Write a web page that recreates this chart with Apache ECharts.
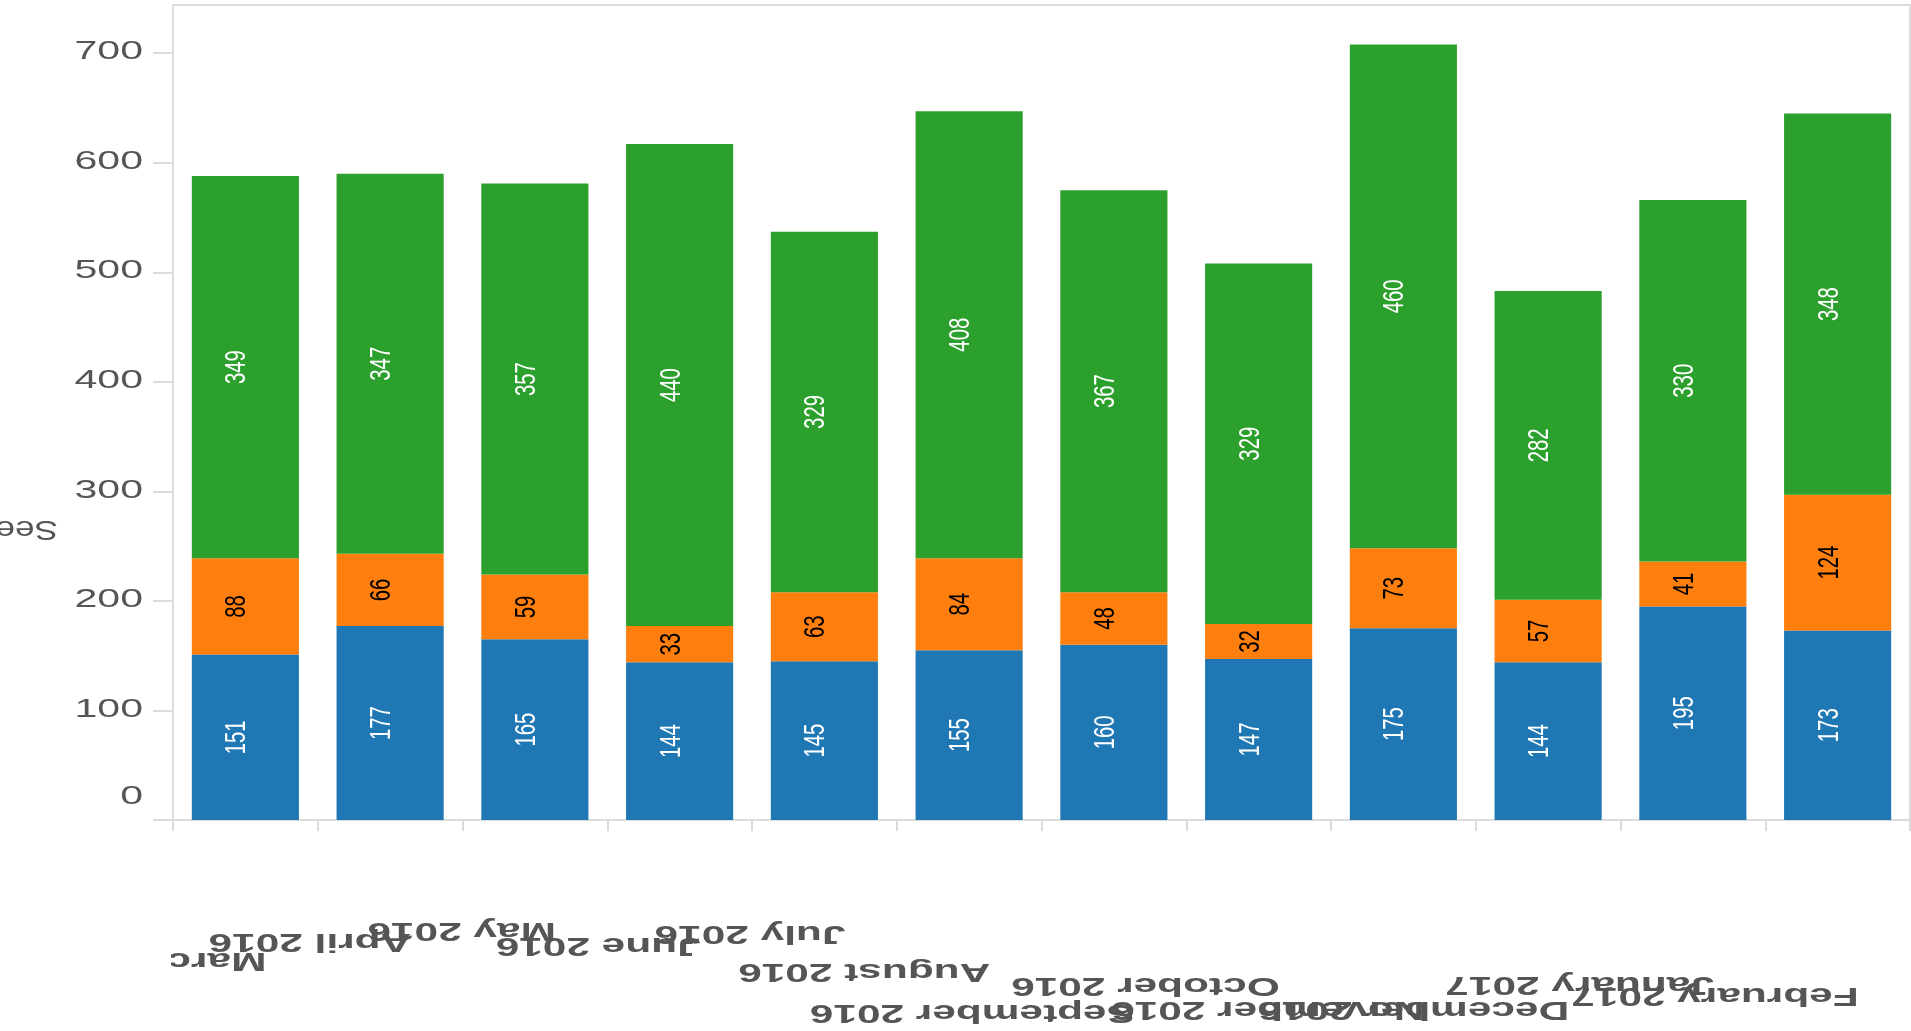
<!DOCTYPE html>
<html>
<head>
<meta charset="utf-8">
<title>Monthly stacked bars</title>
<script src="https://cdn.jsdelivr.net/npm/echarts@6.0.0/dist/echarts.min.js"></script>
<style>
  html, body { margin: 0; padding: 0; background: #fff; }
  #chart { width: 1911px; height: 1031px; }
</style>
</head>
<body>
<div id="chart"></div>
<script>
  // data
  const months = ['March 2016', 'April 2016', 'May 2016', 'June 2016', 'July 2016', 'August 2016',
    'September 2016', 'October 2016', 'November 2016', 'December 2016', 'January 2017', 'February 2017']
  const blueValues = [151, 177, 165, 144, 145, 155, 160, 147, 175, 144, 195, 173]
  const orangeValues = [88, 66, 59, 33, 63, 84, 48, 32, 73, 57, 41, 124]
  const greenValues = [349, 347, 357, 440, 329, 408, 367, 329, 460, 282, 330, 348]
  const yTicks = [0, 100, 200, 300, 400, 500, 600, 700]
  const yTitle = 'Seen'

  // how far below the axis each (upside down) month label sits
  const labelDrop = [140, 121, 110, 125, 113, 151, 192, 165, 189, 189, 164, 175]

  const sans = '"Liberation Sans", Arial, sans-serif'
  const gray = '#555'
  const lineGray = '#dcdcdc'

  const stacks = [
    { name: 'blue', values: blueValues, color: '#1f77b4', text: '#fff' },
    { name: 'orange', values: orangeValues, color: '#ff7f0e', text: '#000' },
    { name: 'green', values: greenValues, color: '#2ca02c', text: '#fff' }
  ]

  const series = []
  stacks.forEach(function (s) {
    series.push({
      name: s.name,
      type: 'bar',
      stack: 'total',
      data: s.values,
      barCategoryGap: '26%',
      itemStyle: { color: s.color }
    })
  })

  // value labels: narrow, rotated text in the middle of each segment
  stacks.forEach(function (s, k) {
    const rows = s.values.map(function (v, i) {
      let base = 0
      for (let j = 0; j < k; j++) base += stacks[j].values[i]
      return [i, base, v]
    })
    series.push({
      name: s.name + ' labels',
      type: 'custom',
      silent: true,
      z: 5,
      data: rows,
      encode: { x: 0, y: 1 },
      renderItem: function (params, api) {
        const base = api.value(1)
        const v = api.value(2)
        const p = api.coord([api.value(0), base + v / 2])
        return {
          type: 'text',
          x: p[0] - 8,
          y: p[1],
          rotation: Math.PI / 2,
          scaleX: 0.7,
          style: {
            text: String(v), font: '29px ' + sans, fill: s.text,
            align: 'center', textAlign: 'center', verticalAlign: 'middle', textVerticalAlign: 'middle'
          }
        }
      }
    })
  })

  const chart = echarts.init(document.getElementById('chart'))
  chart.setOption({
    animation: false,
    grid: {
      left: 173, right: 1, top: 5, bottom: 211,
      containLabel: false,
      outerBoundsMode: 'none',
      show: true,
      borderColor: lineGray,
      borderWidth: 2
    },
    xAxis: {
      type: 'category',
      data: months,
      axisLine: { lineStyle: { color: lineGray, width: 2 } },
      axisTick: { show: true, interval: 0, length: 11, lineStyle: { color: lineGray, width: 2 } },
      axisLabel: { show: false }
    },
    yAxis: {
      type: 'value',
      min: 0,
      max: 744,
      interval: 100,
      splitLine: { show: false },
      axisLine: { show: true, lineStyle: { color: lineGray, width: 2 } },
      axisTick: { show: true, length: 20, customValues: yTicks, lineStyle: { color: lineGray, width: 2 } },
      axisLabel: { show: false }
    },
    series: series
  })

  // stretched tick labels, placed through the chart's own scales
  const g = []
  const zeroY = chart.convertToPixel({ yAxisIndex: 0 }, 0)
  yTicks.forEach(function (v) {
    const py = chart.convertToPixel({ yAxisIndex: 0 }, v)
    const first = v === 0
    g.push({
      type: 'text', silent: true, z: 60,
      x: 143, y: first ? py - 10 : py - 1, scaleX: 1.58,
      style: {
        text: String(v), font: '26px ' + sans, fill: gray,
        align: 'right', textAlign: 'right',
        verticalAlign: first ? 'bottom' : 'middle', textVerticalAlign: first ? 'bottom' : 'middle'
      }
    })
  })
  months.forEach(function (m, i) {
    const px = chart.convertToPixel({ xAxisIndex: 0 }, m)
    g.push({
      type: 'text', silent: true, z: 50,
      x: px + 21, y: zeroY + labelDrop[i], rotation: Math.PI, scaleX: 1.63,
      style: {
        text: m, font: 'bold 26px ' + sans, fill: gray,
        align: 'left', textAlign: 'left', verticalAlign: 'middle', textVerticalAlign: 'middle'
      }
    })
  })
  // labels are cut off left of the plot
  g.push({
    type: 'rect', silent: true, z: 100,
    shape: { x: 0, y: zeroY + 15, width: 171, height: 1031 - zeroY - 15 },
    style: { fill: '#fff' }
  })
  g.push({
    type: 'text', silent: true, z: 60,
    x: 58, y: 528, rotation: Math.PI, scaleX: 1.3,
    style: {
      text: yTitle, font: '27px ' + sans, fill: gray,
      align: 'left', textAlign: 'left', verticalAlign: 'middle', textVerticalAlign: 'middle'
    }
  })
  chart.setOption({ graphic: g })

  window.addEventListener('resize', function () { chart.resize() })
</script>
</body>
</html>
